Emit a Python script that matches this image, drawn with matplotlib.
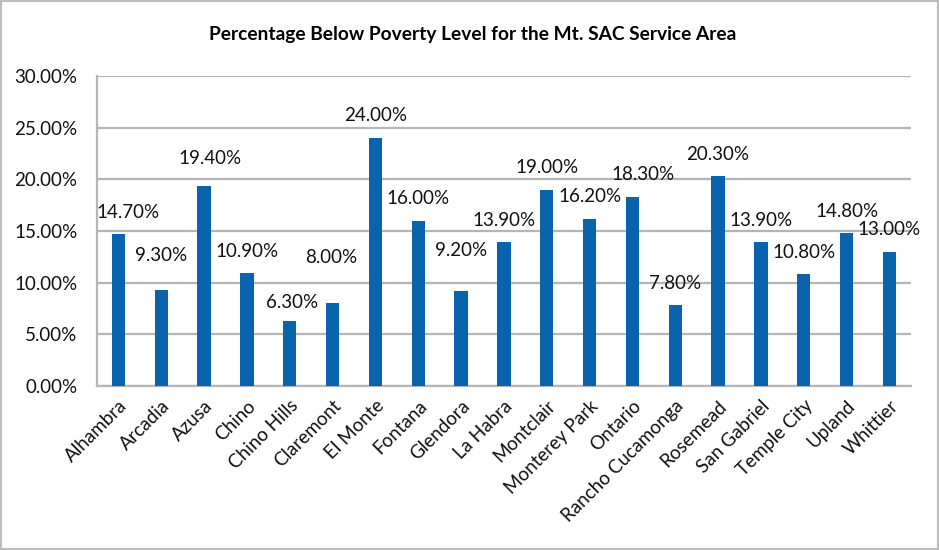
import matplotlib.pyplot as plt
from matplotlib.patches import Rectangle
from matplotlib.ticker import FuncFormatter

cities = ["Alhambra", "Arcadia", "Azusa", "Chino", "Chino Hills", "Claremont",
          "El Monte", "Fontana", "Glendora", "La Habra", "Montclair",
          "Monterey Park", "Ontario", "Rancho Cucamonga", "Rosemead",
          "San Gabriel", "Temple City", "Upland", "Whittier"]
poverty = [14.7, 9.3, 19.4, 10.9, 6.3, 8.0, 24.0, 16.0, 9.2, 13.9, 19.0,
           16.2, 18.3, 7.8, 20.3, 13.9, 10.8, 14.8, 13.0]

# label nudges in pixels (Excel placed some labels oddly)
nudge = {0: (10, 0), 1: (0, 12), 2: (6, 5), 4: (2, -4), 5: (-1, 24),
         8: (0, 18), 12: (11, 0)}

plt.rcParams['font.family'] = ['Lato', 'DejaVu Sans']

fig = plt.figure(figsize=(9.39, 5.5), dpi=100)
ax = fig.add_axes([0.1033, 0.298, 0.8667, 0.564])

x = range(len(cities))
ax.bar(x, poverty, width=0.31, color='#0a63ad', zorder=3)

for i, v in enumerate(poverty):
    dx, dy = nudge.get(i, (0, 0))
    ax.annotate(f"{v:.2f}%", (i, v), xytext=(dx, 22 + dy),
                textcoords='offset pixels', ha='center', va='center',
                fontsize=13.5, color='#111111', zorder=4)

ax.set_xlim(-0.5, len(cities) - 0.5)
ax.set_ylim(0, 30)
ax.set_yticks(range(0, 31, 5))
ax.yaxis.set_major_formatter(FuncFormatter(lambda v, p: f"{v:.2f}%"))
ax.set_xticks(list(x))
ax.set_xticklabels(cities, rotation=45, ha='right', rotation_mode='anchor')
ax.tick_params(axis='both', length=0, labelsize=13.5, colors='#111111')
ax.tick_params(axis='y', pad=14)
ax.tick_params(axis='x', pad=8)

ax.grid(axis='y', color='#b5b5b5', linewidth=1.6, zorder=0)
for s in ['top', 'right']:
    ax.spines[s].set_visible(False)
for s in ['left', 'bottom']:
    ax.spines[s].set_color('#b5b5b5')
    ax.spines[s].set_linewidth(1.6)

fig.text(0.503, 0.938, "Percentage Below Poverty Level for the Mt. SAC Service Area",
         ha='center', va='center', fontsize=13.8, fontweight='bold')

fig.patches.append(Rectangle((0, 0), 1, 1, transform=fig.transFigure,
                             fill=False, edgecolor='#bdbdbd', linewidth=3))

fig.savefig('out.png', dpi=100)
